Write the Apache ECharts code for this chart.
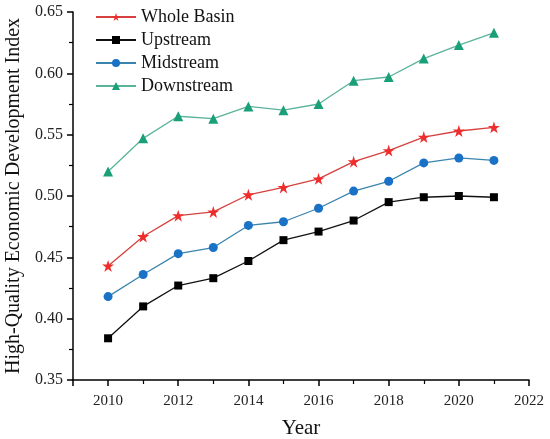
<!DOCTYPE html>
<html>
<head>
<meta charset="utf-8">
<script src="https://cdn.jsdelivr.net/npm/echarts@6/dist/echarts.min.js"></script>
<style>
  html, body { margin: 0; padding: 0; background: #fff; }
  #chart { width: 550px; height: 439px; }
</style>
</head>
<body>
<div id="chart"></div>
<script>
let years = [2010, 2011, 2012, 2013, 2014, 2015, 2016, 2017, 2018, 2019, 2020, 2021]

let wholeBasin = [0.443, 0.467, 0.484, 0.487, 0.501, 0.507, 0.514, 0.528, 0.537, 0.548, 0.553, 0.556]
let upstream   = [0.384, 0.410, 0.427, 0.433, 0.447, 0.464, 0.471, 0.480, 0.495, 0.499, 0.500, 0.499]
let midstream  = [0.418, 0.436, 0.453, 0.458, 0.476, 0.479, 0.490, 0.504, 0.512, 0.527, 0.531, 0.529]
let downstream = [0.520, 0.547, 0.565, 0.563, 0.573, 0.570, 0.575, 0.594, 0.597, 0.612, 0.623, 0.633]

let fontFamily = 'Liberation Serif'
let starPath = 'path://M100,0 L122.5,69.1 L195.1,69.1 L136.3,111.8 L158.8,180.9 L100,138.2 L41.2,180.9 L63.7,111.8 L4.9,69.1 L77.5,69.1 Z'

function pairs(values) {
  return years.map((y, i) => [y, values[i]])
}

function lineSeries(name, values, lineColor, markColor, symbol, size) {
  return {
    name: name,
    type: 'line',
    data: pairs(values),
    symbol: symbol,
    symbolSize: size,
    lineStyle: { color: lineColor, width: 1.3 },
    itemStyle: { color: markColor },
    emphasis: { disabled: true }
  }
}

let axisCommon = {
  axisLine: { show: true, lineStyle: { color: '#000', width: 1.5 } },
  axisTick: { show: true, inside: false, length: 6, lineStyle: { color: '#000', width: 1.5 } },
  minorTick: { show: true, splitNumber: 2, length: 4, lineStyle: { color: '#000', width: 1.2 } },
  splitLine: { show: false }
}

let chart = echarts.init(document.getElementById('chart'))
chart.setOption({
  animation: false,
  backgroundColor: '#fff',
  grid: { left: 73, right: 21, top: 12, bottom: 59, outerBoundsMode: 'none', containLabel: false },
  legend: {
    orient: 'vertical',
    left: 90,
    top: 3,
    itemWidth: 40,
    itemHeight: 10,
    itemGap: 5,
    textStyle: { color: '#111', fontFamily: fontFamily, fontSize: 18 },
    data: ['Whole Basin', 'Upstream', 'Midstream', 'Downstream']
  },
  xAxis: Object.assign({}, axisCommon, {
    type: 'value',
    min: 2009,
    max: 2022,
    splitNumber: 6,
    name: 'Year',
    nameLocation: 'middle',
    nameGap: 38,
    nameTextStyle: { color: '#111', fontFamily: fontFamily, fontSize: 21 },
    axisLabel: {
      color: '#222', fontFamily: fontFamily, fontSize: 15, margin: 14, showMinLabel: false,
      formatter: (v) => String(v)
    }
  }),
  yAxis: Object.assign({}, axisCommon, {
    type: 'value',
    min: 0.35,
    max: 0.65,
    interval: 0.05,
    name: 'High-Quality Economic Development Index',
    nameLocation: 'middle',
    nameGap: 46,
    nameTextStyle: { color: '#111', fontFamily: fontFamily, fontSize: 20 },
    axisLabel: {
      color: '#222', fontFamily: fontFamily, fontSize: 16, margin: 10,
      formatter: (v) => v.toFixed(2)
    }
  }),
  series: [
    lineSeries('Whole Basin', wholeBasin, '#d6403e', '#ee2e2c', starPath, 12),
    lineSeries('Upstream', upstream, '#111', '#000', 'rect', 8),
    lineSeries('Midstream', midstream, '#3b84ad', '#1a72c6', 'circle', 9),
    lineSeries('Downstream', downstream, '#5ab39b', '#1aa079', 'triangle', 10)
  ]
})
</script>
</body>
</html>
